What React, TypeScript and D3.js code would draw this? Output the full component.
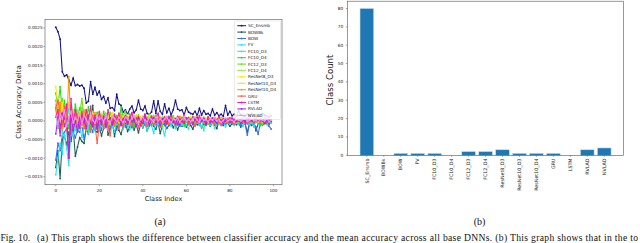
import React from "react";
import * as d3 from "d3";

// ---------- data ----------
const seriesNames = ["SC_Ensmb","BOWBk","BOW","FV","FC10_D3","FC10_D4","FC12_D3","FC12_D4","ResNet8_D3","ResNet10_D3","ResNet10_D4","GRU","LSTM","RVLAD","NVLAD"];
const seriesColors = ["#14148f","#1b5e4e","#3d6fe8","#1ee6f0","#33e6b3","#22dd22","#66e600","#a6e65a","#f0f000","#ffd633","#ff9900","#ff5c4d","#ff1aa3","#b026e6","#e699f0"];

// class accuracy delta, in units of 1e-4
const UNIT = 1e-4;
const scEnsmb = [25.2,24.0,22.0,13.2,12.0,12.4,11.0,9.6,11.5,9.5, 9.8,9.4,9.6,8.8,4.8,5.3,10.6,7.2,9.0,7.0, 8.0,5.8,6.6,4.8,6.2,3.4,3.6,2.8,7.2,4.6, 4.2,2.4,3.0,1.8,3.2,4.0,2.2,3.0,5.6,3.2, 2.8,4.0,2.0,1.8,2.4,5.4,2.0,5.4,2.6,1.8, 4.6,2.2,3.4,1.6,3.0,5.6,3.2,2.8,3.0,1.6, 3.6,2.4,2.0,1.8,2.6,1.4,3.4,1.6,2.8,1.8, 2.0,1.4,3.2,1.6,2.2,1.4,1.8,1.2,4.2,1.6, 2.6,1.4,1.8,1.2,2.8,1.6,1.4,1.0,1.8,1.2, 2.0,1.4,1.6,1.2,1.4,2.0,1.6,1.2,1.0,1.4];
const bowBk = [-12.5,-8.0,-15.5,-5.0,-4.0,-6.5,-3.0,-5.5,-2.0,-9.5, -7.0,-4.5,-5.5,-6.0,-2.0,-3.5,-1.0,4.2,-2.5,-3.0, -1.5,-4.0,-2.0,1.5,-3.8,-2.2,-0.5,-4.2,-1.0,-2.5, -3.6,-1.2,-0.4,-2.8,-1.6,0.6,-2.4,-1.0,-3.2,-0.8, -1.8,-0.6,-2.6,-1.2,0.4,-1.4,-2.2,-0.4,-3.4,-1.0, -0.8,-2.0,-1.2,-0.2,-1.8,-0.6,-2.4,-0.8,-1.4,0.2, -1.6,-0.6,-1.2,-2.2,-0.4,-1.0,-0.2,-1.8,-0.8,-1.2, -0.4,-1.4,-0.6,-1.0,-2.0,-0.2,-0.8,-1.2,-0.4,-0.6, -1.4,-0.8,-0.2,-1.0,-0.6,-1.6,-0.4,-0.8,-3.0,-0.6, -1.2,-0.4,-2.6,-0.8,-0.4,-1.0,-0.6,-0.2,-0.8,-0.4];
const bow = [-10.5,-6.0,-8.0,-4.0,-3.0,-2.0,-9.5,-1.5,-3.0,-4.5, -2.5,-3.0,-1.0,-5.0,-2.0,-0.5,-1.5,-3.0,0.5,-2.0, -0.5,-2.5,0.8,-1.4,-0.2,-2.0,0.4,-1.2,-2.4,0.2, -1.0,-0.2,-1.6,0.4,-0.8,-1.8,0.2,-1.2,-0.4,-0.8, 0.6,-1.0,-0.4,-1.4,0.2,-0.6,-1.0,0.4,-0.8,-0.2, -1.2,0.2,-0.4,-1.0,-0.2,0.6,-0.8,-1.4,0.0,-0.6, 0.4,-0.8,-0.2,-1.0,0.2,-0.4,-1.2,-0.2,0.4,-0.6, -0.8,0.0,-0.4,0.6,-1.0,-0.2,-0.6,0.2,-0.8,-0.4, 0.2,-0.6,-1.0,0.0,-0.4,-1.2,0.4,-0.8,-3.8,-1.0, -0.2,-0.8,-1.6,-3.6,-0.4,-1.0,-0.2,-0.6,-1.4,-2.2];
const fv = [-14.5,-10.0,-6.0,-9.0,-3.5,-7.5,-12.0,-2.0,-4.0,-1.5, -3.0,-1.0,-4.5,-2.0,1.0,-3.5,-1.5,-0.5,-2.5,-1.0, -2.8,0.6,-1.6,-0.4,-2.6,0.8,-1.2,-3.0,0.2,-1.4, -0.6,-2.2,0.4,-1.0,-2.4,-0.2,-1.4,0.6,-1.8,-0.4, -1.6,0.2,-2.8,-0.6,-1.2,-3.4,0.0,-1.0,-0.4,-1.8, -4.0,-0.6,0.4,-1.4,-0.2,-2.0,-0.8,0.2,-1.2,-0.4, -1.0,-2.2,0.0,-0.6,-1.4,0.4,-0.8,-1.6,-0.2,-1.0, 0.2,-1.2,-0.4,-2.0,-0.6,0.0,-1.0,-0.2,-1.6,-0.4, -0.8,0.2,-1.2,-0.4,-0.8,0.0,-1.4,-0.2,-0.6,-1.0, -0.4,-1.6,0.0,-0.8,-1.2,-0.2,-0.6,-1.0,0.2,-0.6];
const fc10D3 = [3.0,-2.0,5.0,-4.0,2.5,-1.0,4.0,-3.0,1.5,-2.5, 2.0,-1.5,3.5,-0.5,1.0,-2.5,2.2,0.4,-1.8,1.4, -0.6,2.0,-1.2,0.8,1.6,-0.8,0.2,1.8,-1.0,0.6, 1.2,-0.4,0.8,-1.6,1.0,0.2,-0.8,1.4,-0.2,0.6, -1.0,1.2,0.0,0.8,-0.6,1.4,-0.2,0.4,1.0,-0.8, 0.6,1.2,-0.4,0.2,1.0,-1.2,0.4,0.8,-0.6,1.0, -0.2,0.6,1.0,-0.4,0.2,0.8,-1.0,0.4,-2.6,0.6, 0.2,-0.6,0.8,0.0,0.4,-0.8,0.6,0.2,-0.4,0.8, 0.0,0.4,-0.6,0.6,0.2,-0.2,0.8,-0.4,0.2,0.4, -0.6,0.2,0.6,-0.2,0.4,0.0,-0.4,0.6,0.2,-0.2];
const fc10D4 = [7.5,4.0,9.2,2.0,5.5,1.0,-2.0,3.0,0.5,4.5, 1.0,3.5,-1.0,2.5,0.5,3.8,-1.5,1.6,-0.4,2.2, 0.8,-1.2,2.6,0.4,1.2,-0.6,2.0,0.2,1.4,-1.0, 3.8,0.6,1.0,-0.4,1.8,0.2,-1.6,1.2,0.4,0.8, -0.6,1.6,0.2,1.0,-1.2,0.8,1.4,-0.2,0.6,1.0, 0.2,-0.8,1.2,0.4,0.8,-0.4,1.0,0.0,0.6,-1.4, 0.8,0.2,-0.6,1.0,0.4,-0.2,0.8,0.2,0.6,-0.4, 1.0,0.0,0.4,-0.8,0.6,0.2,0.8,-0.2,0.4,0.6, -0.4,0.8,0.2,0.4,-0.2,0.6,0.0,0.4,-0.6,0.2, 0.6,-0.2,0.4,0.0,-1.2,0.2,0.4,-0.4,0.2,0.0];
const fc12D3 = [5.5,3.0,1.5,6.0,-1.0,2.0,0.0,3.5,-2.0,1.5, -1.5,2.0,6.0,0.5,-2.5,1.0,2.5,-0.5,1.2,-1.8, 1.8,0.2,-0.8,1.6,-0.2,2.2,0.4,-1.2,1.0,0.6, -0.4,1.4,2.6,-0.6,0.8,1.2,-0.2,0.6,1.6,-1.0, 0.4,1.0,-0.2,1.8,0.6,-0.8,0.2,1.2,0.0,-1.4, 1.0,0.4,-0.2,0.8,1.4,0.0,-0.6,0.6,1.0,0.2, -0.4,0.8,0.2,1.2,-0.6,0.4,0.6,-0.2,1.0,0.2, -0.8,0.4,0.8,0.0,0.2,0.6,-0.4,0.8,0.2,-0.2, 0.6,0.0,0.4,0.8,-0.4,0.2,0.6,-0.2,0.4,0.0, 0.2,0.6,-0.4,0.4,0.0,-0.8,0.2,0.4,0.0,0.2];
const fc12D4 = [4.5,1.5,3.0,-0.5,4.0,2.0,1.0,-1.5,2.5,0.5, 3.0,-0.5,1.5,2.2,-1.0,1.8,0.4,2.6,-0.6,1.0, 0.2,1.6,-0.4,0.8,2.0,0.0,1.2,-0.8,0.6,1.4, -0.2,0.8,1.2,0.2,-0.6,1.6,0.4,0.0,1.0,-0.4, 1.2,0.2,0.8,-0.4,1.4,0.6,0.0,1.0,-0.2,0.8, 0.4,-0.6,1.2,0.2,0.6,-0.2,1.0,0.4,-0.4,0.8, 0.2,1.0,-0.2,0.6,0.4,-0.6,0.8,0.2,0.6,0.0, 0.6,0.2,-0.4,0.8,0.0,0.4,0.6,-0.2,0.4,0.2, 0.0,0.6,0.2,-0.2,0.8,0.4,0.0,0.6,0.2,-0.4, 0.4,0.0,0.6,0.2,-0.2,0.4,0.0,0.2,-0.4,0.2];
const resNet8D3 = [9.3,4.0,2.0,5.0,0.0,3.0,4.5,1.0,2.5,-1.0, 2.0,0.5,-1.5,2.5,1.0,-0.5,3.0,0.0,1.5,-0.8, 1.0,2.0,-0.2,0.6,1.4,-0.6,1.8,0.2,0.8,-0.4, 1.2,0.4,-0.2,1.6,0.0,0.6,1.0,-0.6,0.4,1.2, -0.2,0.8,0.4,1.4,0.0,0.6,-0.4,1.0,0.2,0.8, 1.2,0.0,0.6,-0.4,0.8,0.2,1.0,0.4,-0.2,0.6, 0.8,0.2,1.0,-0.2,0.4,1.2,0.0,0.6,0.2,0.8, -0.2,0.6,0.2,1.0,0.4,0.0,0.6,0.8,-0.2,0.4, 0.6,0.2,0.8,0.0,0.4,0.6,-0.2,0.4,0.2,0.6, 0.0,0.4,0.2,0.6,-0.2,0.4,0.2,0.0,0.4,0.2];
const resNet10D3 = [4.0,6.0,1.0,3.5,-0.5,2.0,5.0,0.5,3.0,1.0, -1.0,2.5,0.5,1.5,3.0,-0.5,1.0,2.0,-0.2,1.2, 2.6,0.2,1.0,-0.4,1.6,0.6,2.2,-0.2,0.8,1.0, 0.0,1.4,0.6,-0.2,1.2,0.4,0.8,1.6,-0.4,0.6, 1.0,0.2,-0.6,0.8,1.2,0.0,0.6,0.4,1.0,-0.2, 0.6,0.8,0.2,1.2,-0.2,0.4,0.8,0.0,0.6,1.0, 0.2,-0.4,0.8,0.4,1.0,0.0,0.4,0.8,-0.2,0.6, 0.4,0.8,0.0,0.2,0.6,-0.2,0.4,0.6,0.2,0.8, 0.2,0.4,0.0,0.6,0.2,0.4,-0.2,0.6,0.0,0.4, 0.6,0.2,0.0,0.4,0.2,-0.2,0.4,0.2,0.0,0.4];
const resNet10D4 = [3.5,0.0,5.0,-2.0,2.0,-1.0,12.0,-2.5,1.5,0.0, 2.0,-1.0,1.0,3.0,-0.5,1.5,0.0,-1.5,2.2,0.4, -0.6,1.4,0.2,2.0,-0.8,0.6,1.2,-0.4,0.8,0.0, 1.6,-0.4,0.6,1.0,-1.2,0.4,0.8,-0.2,1.2,0.2, -0.8,0.6,1.0,0.0,-0.4,1.2,0.4,-0.6,0.8,0.2, 0.0,1.0,-0.6,0.4,0.8,-0.2,0.6,1.2,-0.4,0.2, 0.6,-0.2,0.4,1.0,0.0,-0.6,0.8,0.2,0.4,-0.2, 0.8,0.2,-0.4,0.6,0.0,0.4,-0.2,0.6,0.2,0.0, 0.4,-0.4,0.6,0.2,0.0,0.6,0.2,-0.2,0.4,0.0, 0.2,0.6,-0.2,0.0,0.4,0.2,-0.4,0.2,0.0,0.4];
const gru = [3.5,5.5,2.0,-1.0,4.0,-2.5,1.0,-3.5,0.5,2.0, -1.5,0.0,2.5,-2.0,1.0,-0.5,-3.0,1.5,-1.0,-6.0, -1.2,0.6,-2.0,0.2,-1.4,-4.0,0.4,-1.0,0.8,-2.2, 0.0,-1.6,0.6,-0.8,0.4,-1.2,-0.2,0.8,-1.8,0.2, -0.6,0.4,-1.4,0.0,0.8,-1.0,-0.2,0.6,-1.6,0.2, -0.4,0.6,-1.0,-0.2,0.4,-1.2,0.2,-0.6,0.8,-0.4, 0.0,-1.0,0.4,-0.4,-1.4,0.2,-0.6,0.4,-0.2,-1.0, 0.4,-0.6,0.0,-0.8,0.2,-0.4,-1.2,0.2,-0.2,-0.6, 0.2,-0.4,-0.8,0.0,0.4,-0.6,-0.2,0.2,-0.8,-0.2, 0.0,-0.6,0.2,-0.4,-0.2,0.4,-0.8,0.0,-0.4,0.2];
const lstm = [1.0,3.0,-2.0,2.0,0.5,4.5,-10.0,6.0,-1.0,3.0, 0.5,-2.0,2.0,-0.5,3.0,0.0,4.0,-1.0,1.5,-1.8, 2.4,0.0,1.2,-1.0,3.0,0.4,-0.6,1.6,0.2,2.0, -0.8,0.6,1.4,-0.4,0.8,2.2,-0.2,0.4,1.0,-1.2, 0.6,1.8,-0.4,0.2,1.2,-0.6,0.8,2.0,-0.2,0.4, 1.0,-0.4,0.6,1.4,0.0,-0.8,1.2,0.4,-0.2,1.6, 0.2,0.8,-0.4,1.0,0.4,-0.2,1.4,0.0,0.6,-0.6, 1.0,0.4,-0.2,0.8,0.2,1.2,-0.4,0.6,0.0,0.4, 0.8,-0.2,0.4,1.0,0.0,0.2,0.6,-0.4,0.8,0.2, 0.4,0.0,0.8,-0.2,0.6,0.2,1.0,-0.2,0.4,0.0];
const rvlad = [-3.5,1.0,-4.0,2.0,-1.5,0.5,-10.0,1.5,-2.5,0.0, -3.0,1.0,-1.0,0.5,-2.0,1.5,-0.5,-1.5,0.8,-2.2, 0.6,-0.8,1.2,-1.6,0.2,0.8,-1.0,0.4,-0.4,1.0, -1.2,0.2,0.6,-0.8,1.0,-0.2,0.4,-1.4,0.8,0.0, -0.6,1.2,0.2,-1.0,0.4,0.8,-0.4,0.2,-1.2,0.6, 0.0,-0.8,1.0,0.2,-0.4,0.6,-1.0,0.4,0.0,-0.6, 0.8,-0.2,0.2,-0.8,0.4,1.0,-0.4,0.0,0.6,-1.0, 0.2,-0.4,0.8,0.0,-0.6,0.4,0.2,-0.8,0.6,0.0, -0.4,0.6,0.0,-0.2,0.4,-0.6,0.2,0.0,-0.4,0.6, 0.0,-0.2,0.4,-0.4,0.2,0.0,-0.6,0.2,-0.2,0.0];
const nvlad = [1.5,-1.0,2.0,0.5,3.0,-1.5,1.0,2.5,-0.5,1.0, 0.0,2.0,-1.0,1.5,0.5,-0.8,2.2,0.2,-0.6,1.4, 0.4,1.0,-0.4,1.8,0.0,-0.6,1.2,0.6,-0.2,1.0, 0.2,-0.4,1.0,0.6,-0.2,0.8,1.4,0.0,-0.6,0.4, 1.0,0.2,-0.2,0.8,0.4,-0.4,1.2,0.0,0.6,-0.2, 0.4,1.0,0.0,-0.4,0.6,0.2,0.8,-0.2,0.4,1.2, 0.0,0.4,-0.2,0.6,1.0,0.2,-0.4,0.8,0.2,0.4, -0.2,0.6,0.2,1.0,0.0,0.4,-0.4,0.2,0.8,0.0, 0.4,0.2,-0.2,0.6,0.2,0.0,0.4,0.8,-0.2,0.2, 0.6,0.0,0.2,-0.4,0.4,0.2,0.0,0.6,-0.2,0.2];
const deltaSeries = [scEnsmb,bowBk,bow,fv,fc10D3,fc10D4,fc12D3,fc12D4,resNet8D3,resNet10D3,resNet10D4,gru,lstm,rvlad,nvlad];

const leftYTicks = [-0.0015,-0.001,-0.0005,0,0.0005,0.001,0.0015,0.002,0.0025];
const leftXTicks = [0,20,40,60,80,100];

const barCategories = seriesNames;
const classCounts = [80,0,1,1,1,0,2,2,3,1,1,1,0,3,4];
const rightYTicks = [0,10,20,30,40,50,60,70,80];

const SANS = "'DejaVu Sans', sans-serif";
const SERIF = "'Liberation Serif', 'Times New Roman', serif";
const fmtL = (v: number) => (v < 0 ? "\u2212" : "") + Math.abs(v).toFixed(4);

export default function App() {
  // left chart scales
  const xL = d3.scaleLinear().domain([-4.95, 103.95]).range([45, 282]);
  const yL = d3.scaleLinear().domain([-0.001715, 0.002734]).range([184.7, 19.3]);
  const line = d3.line<number>().x((_, i) => xL(i)).y((d) => yL(d * UNIT));

  // right chart scales
  const xR = d3.scaleLinear().domain([-1.14, 15.14]).range([347.5, 623.6]);
  const yR = d3.scaleLinear().domain([0, 84]).range([155.3, 1.2]);
  const bw = xR(0.8) - xR(0);

  const frame = "#555";
  return (
    <svg width={640} height={243} style={{ position: "absolute", left: 0, top: 0, background: "#fff" }}>
      {/* ---------- left chart ---------- */}
      <defs>
        <clipPath id="clipL"><rect x={45} y={19.3} width={237} height={165.4} /></clipPath>
      </defs>
      <g clipPath="url(#clipL)">
        {deltaSeries.map((s, k) => (
          <g key={k}>
            <path d={line(s) || ""} fill="none" stroke={seriesColors[k]} strokeWidth={1.05} />
            {s.map((v, i) => (
              <circle key={i} cx={xL(i)} cy={yL(v * UNIT)} r={0.9} fill={seriesColors[k]} />
            ))}
          </g>
        ))}
      </g>
      <rect x={45} y={19.3} width={237} height={165.4} fill="none" stroke={frame} strokeWidth={0.6} />
      {leftYTicks.map((t) => (
        <g key={t}>
          <line x1={43.4} x2={45} y1={yL(t)} y2={yL(t)} stroke={frame} strokeWidth={0.5} />
          <text x={42.6} y={yL(t)} dy="0.35em" textAnchor="end" fontFamily={SANS} fontSize={4.2} fill="#222">{fmtL(t)}</text>
        </g>
      ))}
      {leftXTicks.map((t) => (
        <g key={t}>
          <line x1={xL(t)} x2={xL(t)} y1={184.7} y2={186.3} stroke={frame} strokeWidth={0.5} />
          <text x={xL(t)} y={191.8} textAnchor="middle" fontFamily={SANS} fontSize={4.2} fill="#222">{t}</text>
        </g>
      ))}
      <text x={163.5} y={200.5} textAnchor="middle" fontFamily={SANS} fontSize={6.6} fill="#222">Class Index</text>
      <text transform="translate(20.5,102) rotate(-90)" textAnchor="middle" fontFamily={SANS} fontSize={7} fill="#222">Class Accuracy Delta</text>

      {/* legend */}
      <rect x={234.5} y={21} width={46} height={98.5} rx={1} fill="#fff" fillOpacity={0.85} stroke="#d0d0d0" strokeWidth={0.4} />
      {seriesNames.map((n, k) => {
        const yy = 25.7 + 6.4 * k;
        return (
          <g key={n}>
            <line x1={237.3} x2={246} y1={yy} y2={yy} stroke={seriesColors[k]} strokeWidth={1.05} />
            <circle cx={241.6} cy={yy} r={0.9} fill={seriesColors[k]} />
            <text x={248} y={yy} dy="0.35em" fontFamily={SANS} fontSize={4.2} fill="#222">{n}</text>
          </g>
        );
      })}

      {/* ---------- right chart ---------- */}
      {classCounts.map((c, i) => (
        <rect key={i} x={xR(i - 0.4)} y={yR(c)} width={bw} height={yR(0) - yR(c)} fill="#1f77b4" stroke="#bcd8ee" strokeWidth={0.5} />
      ))}
      <rect x={347.5} y={1.2} width={276.1} height={154.1} fill="none" stroke={frame} strokeWidth={0.6} />
      {rightYTicks.map((t) => (
        <g key={t}>
          <line x1={345.9} x2={347.5} y1={yR(t)} y2={yR(t)} stroke={frame} strokeWidth={0.5} />
          <text x={343.2} y={yR(t)} dy="0.35em" textAnchor="end" fontFamily={SANS} fontSize={4.3} fill="#222">{t}</text>
        </g>
      ))}
      {barCategories.map((c, i) => (
        <g key={c}>
          <line x1={xR(i)} x2={xR(i)} y1={155.3} y2={156.9} stroke={frame} strokeWidth={0.5} />
          <text transform={`translate(${xR(i)},158.5) rotate(-90)`} dy="0.35em" textAnchor="end" fontFamily={SANS} fontSize={4.8} fill="#222">{c}</text>
        </g>
      ))}
      <text transform="translate(333,80) rotate(-90)" textAnchor="middle" fontFamily={SANS} fontSize={8.6} fill="#222">Class Count</text>

      {/* ---------- captions ---------- */}
      <text x={160} y={224.5} textAnchor="middle" fontFamily={SERIF} fontSize={10} fill="#111">(a)</text>
      <text x={479.5} y={224.5} textAnchor="middle" fontFamily={SERIF} fontSize={10} fill="#111">(b)</text>
      <text x={0.5} y={241} fontFamily={SERIF} fontSize={9.6} fill="#111">Fig. 10.</text>
      <text x={37} y={241} fontFamily={SERIF} fontSize={9.6} fill="#111" textLength={601} lengthAdjust="spacing">(a) This graph shows the difference between classifier accuracy and the mean accuracy across all base DNNs. (b) This graph shows that in the to</text>
    </svg>
  );
}
